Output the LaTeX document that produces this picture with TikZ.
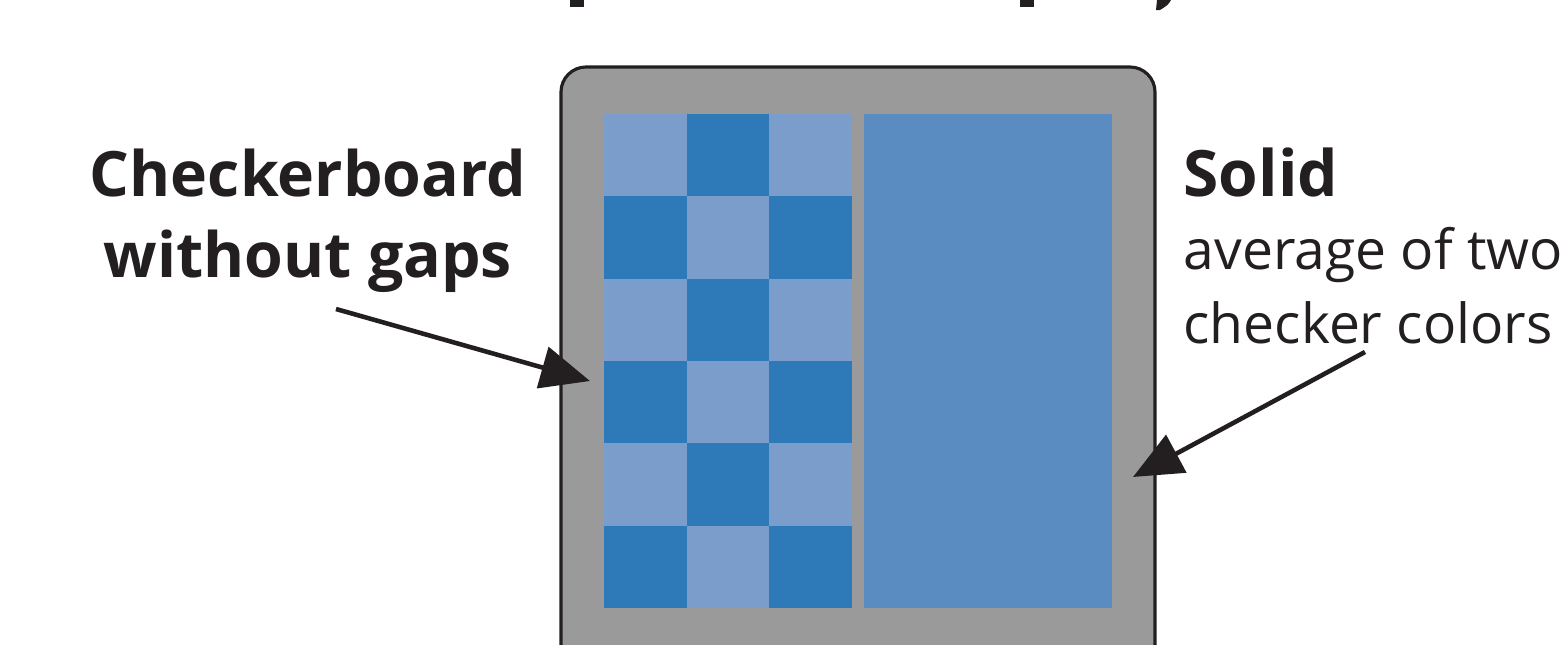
\documentclass[tikz,border=0pt]{standalone}
\usepackage{fontspec}
\setmainfont{Open Sans}
\usetikzlibrary{arrows.meta}
\definecolor{framegray}{HTML}{9A9A9A}
\definecolor{lightcell}{HTML}{7A9DCC}
\definecolor{darkcell}{HTML}{2E7AB9}
\definecolor{solidblue}{HTML}{5A8BC1}
\definecolor{ink}{HTML}{231F20}
\tikzset{>={Triangle[length=14pt,width=12pt]}}
\tikzset{pointer/.style={->,color=ink,line width=1.3pt}}

\begin{document}
\begin{tikzpicture}[x=0.01cm,y=-0.01cm]
\useasboundingbox (0,0) rectangle (1565,645);
\clip (0,0) rectangle (1565,645);

% bits of the heading above
\fill[ink] (570,0) rectangle (584,7);
\fill[ink] (1020,0) rectangle (1034,7);
\fill[ink] (1157,0) -- (1171,0) .. controls (1168,5) .. (1160,10) -- (1156,10) -- cycle;

% display frame
\draw[fill=framegray, draw=ink, line width=0.9pt, rounded corners=0.25cm] (561,67) rectangle (1155,700);

% checkerboard half
\foreach \r in {0,...,5}{
  \foreach \c in {0,1,2}{
    \pgfmathtruncatemacro\odd{mod(\r+\c,2)}
    \ifnum\odd=0 \def\cellcol{lightcell}\else\def\cellcol{darkcell}\fi
    \fill[\cellcol] (604+82.67*\c,114+82.33*\r) rectangle ++(82.67,82.33);
  }
}

% solid half
\fill[solidblue] (864,114) rectangle (1112,608);

\node[anchor=base, align=center, font=\fontsize{17.8}{22.8}\selectfont\bfseries, text=ink, inner sep=0]
  (checklabel) at (308,277) {Checkerboard\\without gaps};
\node[anchor=base west, align=left, font=\fontsize{15.7}{20.8}\selectfont, text=ink, inner sep=0]
  (solidlabel) at (1183,343) {\textbf{\fontsize{18.2}{20.8}\selectfont Solid}\\average of two\\checker colors};

\coordinate (checkfoot) at (336,309);
\coordinate (checktip) at (590,381);
\coordinate (solidfoot) at (1365,352);
\coordinate (solidtip) at (1133,477);

\draw[pointer] (checkfoot) -- (checktip);
\draw[pointer] (solidfoot) -- (solidtip);

\end{tikzpicture}
\end{document}
